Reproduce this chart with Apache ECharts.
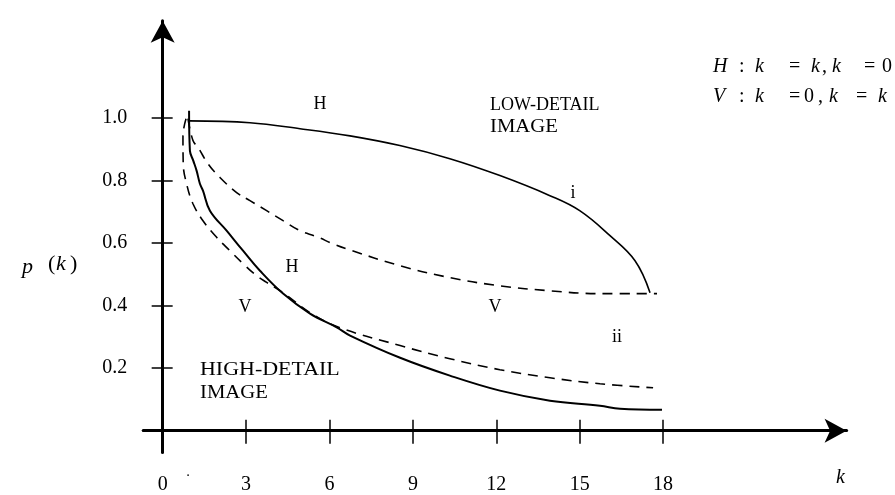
<!DOCTYPE html>
<html>
<head>
<meta charset="utf-8">
<script src="https://cdn.jsdelivr.net/npm/echarts@6/dist/echarts.min.js"></script>
<style>
  html, body { margin: 0; padding: 0; background: #fff; }
  #chart { width: 895px; height: 495px; }
</style>
</head>
<body>
<div id="chart"></div>
<script>
// Tick positions and labels
const xTickValues = [3, 6, 9, 12, 15, 18];
const xLabelValues = [0, 3, 6, 9, 12, 15, 18];
const yTickValues = [0.2, 0.4, 0.6, 0.8, 1.0];

// Low-detail image, horizontal neighbours (solid)
const kLowH = [0.95, 3.14, 4.94, 6.74, 8.53, 10.33, 12.13, 13.93, 15.0, 16.09, 16.99, 17.53];
const pLowH = [0.990, 0.984, 0.965, 0.942, 0.911, 0.869, 0.815, 0.751, 0.703, 0.623, 0.543, 0.441];

// Low-detail image, vertical neighbours (dashed)
const kLowV = [0.91, 1.09, 1.28, 1.63, 2.06, 2.66, 3.14, 3.74, 4.33, 4.94, 5.54, 6.13, 6.62, 8.54, 10.33, 12.13, 13.93, 15.73, 17.78];
const pLowV = [0.997, 0.927, 0.904, 0.853, 0.809, 0.761, 0.735, 0.703, 0.671, 0.639, 0.620, 0.597, 0.581, 0.527, 0.489, 0.463, 0.447, 0.438, 0.438];

// High-detail image, horizontal neighbours (solid)
const kHighH = [0.95, 0.98, 1.10, 1.22, 1.34, 1.45, 1.70, 2.30, 2.89, 3.50, 4.33, 5.30, 6.26, 6.74, 8.54, 10.33, 12.13, 13.93, 15.73, 16.45, 17.96];
const pHighH = [1.022, 0.895, 0.863, 0.831, 0.789, 0.767, 0.703, 0.639, 0.575, 0.511, 0.438, 0.374, 0.330, 0.304, 0.233, 0.176, 0.128, 0.096, 0.080, 0.070, 0.067];

// High-detail image, vertical neighbours (dashed)
const kHighV = [0.84, 0.73, 0.74, 0.86, 1.09, 1.45, 1.94, 2.42, 2.89, 3.38, 3.74, 4.33, 5.30, 6.38, 8.54, 10.33, 12.13, 13.93, 15.73, 17.64];
const pHighV = [0.997, 0.942, 0.852, 0.789, 0.725, 0.671, 0.618, 0.575, 0.534, 0.495, 0.474, 0.441, 0.377, 0.329, 0.272, 0.230, 0.195, 0.169, 0.150, 0.137];

const pairs = (ks, ps) => ks.map((k, i) => [k, ps[i]]);

const SERIF = '"Liberation Serif", "Times New Roman", serif';
const BLACK = '#000';

const X_MIN = -0.7, X_MAX = 24.6;
const Y_MIN = -0.07, Y_MAX = 1.31;

function xAxisDef(extra) {
  return Object.assign({
    type: 'value', min: X_MIN, max: X_MAX, position: 'bottom',
    splitLine: { show: false }
  }, extra);
}
function yAxisDef(extra) {
  return Object.assign({
    type: 'value', min: Y_MIN, max: Y_MAX, position: 'left',
    splitLine: { show: false }
  }, extra);
}

const chart = echarts.init(document.getElementById('chart'), null, { renderer: 'canvas' });

function lineSeries(data, width, dashed) {
  return {
    type: 'line', data: data, smooth: 0.4, symbol: 'none',
    xAxisIndex: 0, yAxisIndex: 0,
    lineStyle: { color: BLACK, width: width, type: dashed ? [10, 7] : 'solid' },
    silent: true, animation: false
  };
}

const textEl = (x, y, text, size, align, extraStyle, scaleX) => ({
  type: 'text', x: x, y: y, silent: true, scaleX: scaleX || 1,
  style: Object.assign({
    text: text, font: size + 'px ' + SERIF, fill: BLACK,
    align: align || 'center', verticalAlign: 'middle'
  }, extraStyle || {})
});
const italicEl = (x, y, text, size) =>
  textEl(x, y, text, size, 'left', { font: 'italic ' + size + 'px ' + SERIF });

chart.setOption({
  backgroundColor: '#fff',
  animation: false,
  grid: {
    left: 143.2, right: 48.4, top: 20.7, bottom: 42.4,
    containLabel: false, outerBoundsMode: 'none'
  },
  xAxis: [
    xAxisDef({
      axisLine: {
        onZero: true, onZeroAxisIndex: 0,
        lineStyle: { color: BLACK, width: 3 },
        symbol: ['none', 'arrow'], symbolSize: [18, 22]
      },
      axisTick: { customValues: xTickValues, length: 13, lineStyle: { color: BLACK, width: 1.5 } },
      axisLabel: {
        customValues: xLabelValues, margin: 22,
        fontFamily: SERIF, fontSize: 20, color: BLACK
      }
    }),
    xAxisDef({
      axisLine: { show: false, onZero: true, onZeroAxisIndex: 0 },
      axisTick: { inside: true, customValues: xTickValues, length: 11, lineStyle: { color: BLACK, width: 1.5 } },
      axisLabel: { show: false }
    })
  ],
  yAxis: [
    yAxisDef({
      axisLine: {
        onZero: true, onZeroAxisIndex: 0,
        lineStyle: { color: BLACK, width: 3 },
        symbol: ['none', 'arrow'], symbolSize: [18, 22]
      },
      axisTick: { customValues: yTickValues, length: 11, lineStyle: { color: BLACK, width: 1.5 } },
      axisLabel: {
        customValues: yTickValues, margin: 16,
        fontFamily: SERIF, fontSize: 20, color: BLACK,
        formatter: v => v.toFixed(1)
      }
    }),
    yAxisDef({
      axisLine: { show: false, onZero: true, onZeroAxisIndex: 0 },
      axisTick: { inside: true, customValues: yTickValues, length: 10, lineStyle: { color: BLACK, width: 1.5 } },
      axisLabel: { show: false }
    })
  ],
  series: [
    lineSeries(pairs(kLowH, pLowH), 1.6, false),
    lineSeries(pairs(kLowV, pLowV), 1.6, true),
    lineSeries(pairs(kHighH, pHighH), 2, false),
    lineSeries(pairs(kHighV, pHighV), 1.6, true)
  ],
  graphic: [
    // axis titles
    italicEl(22, 267, 'p', 22),
    textEl(48, 264, '(', 22, 'left'),
    italicEl(56, 264, 'k', 22),
    textEl(70, 264, ')', 22, 'left'),
    italicEl(836, 478, 'k', 20),
    textEl(188, 476, '·', 14, 'center'),
    // curve annotations
    textEl(320, 104, 'H', 18),
    textEl(292, 267, 'H', 18),
    textEl(245, 307, 'V', 18),
    textEl(495, 307, 'V', 18),
    textEl(573, 193, 'i', 18),
    textEl(617, 337, 'ii', 18),
    textEl(490, 105, 'LOW-DETAIL', 18, 'left'),
    textEl(490, 127, 'IMAGE', 18, 'left', null, 1.15),
    textEl(200, 370, 'HIGH-DETAIL', 18, 'left', null, 1.22),
    textEl(200, 393, 'IMAGE', 18, 'left', null, 1.15),
    // neighbour definitions: H line
    italicEl(713, 67, 'H', 20),
    textEl(739, 67, ':', 20, 'left'),
    italicEl(755, 67, 'k', 20),
    textEl(789, 67, '=', 20, 'left'),
    italicEl(811, 67, 'k', 20),
    textEl(822, 67, ',', 20, 'left'),
    italicEl(832, 67, 'k', 20),
    textEl(864, 67, '=', 20, 'left'),
    textEl(882, 67, '0', 20, 'left'),
    // neighbour definitions: V line
    italicEl(713, 97, 'V', 20),
    textEl(739, 97, ':', 20, 'left'),
    italicEl(755, 97, 'k', 20),
    textEl(789, 97, '=', 20, 'left'),
    textEl(804, 97, '0', 20, 'left'),
    textEl(818, 97, ',', 20, 'left'),
    italicEl(829, 97, 'k', 20),
    textEl(856, 97, '=', 20, 'left'),
    italicEl(878, 97, 'k', 20)
  ]
});
</script>
</body>
</html>
